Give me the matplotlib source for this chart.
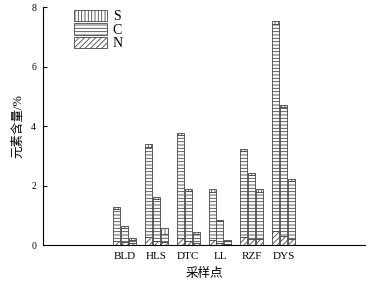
import numpy as np
import matplotlib
matplotlib.use('Agg')
import matplotlib.pyplot as plt
from matplotlib.patches import Patch

plt.rcParams['font.family'] = ['Liberation Serif', 'Noto Sans CJK SC']
plt.rcParams['hatch.color'] = '#777777'
plt.rcParams['hatch.linewidth'] = 0.6

# sampling sites
sites = ['BLD', 'HLS', 'DTC', 'LL', 'RZF', 'DYS']

# three samples per site, values in %
# N (bottom), C (middle), S (top cap)
n_vals = [[0.15, 0.27, 0.25, 0.17, 0.26, 0.47],
          [0.10, 0.15, 0.15, 0.08, 0.22, 0.30],
          [0.06, 0.10, 0.06, 0.03, 0.20, 0.20]]
c_vals = [[1.05, 3.04, 3.44, 1.62, 2.89, 6.95],
          [0.49, 1.40, 1.67, 0.72, 2.14, 4.34],
          [0.12, 0.26, 0.32, 0.10, 1.60, 1.95]]
s_vals = [[0.08, 0.08, 0.08, 0.08, 0.08, 0.10],
          [0.06, 0.07, 0.07, 0.06, 0.08, 0.08],
          [0.05, 0.20, 0.06, 0.04, 0.08, 0.08]]

fig = plt.figure(figsize=(3.72, 2.84), dpi=100)
ax = fig.add_axes([0.116, 0.137, 0.865, 0.838])

x = np.arange(len(sites))
w = 0.22
offs = [-0.25, 0, 0.25]
ec = '#444444'
for i in range(3):
    n = np.array(n_vals[i])
    c = np.array(c_vals[i])
    s = np.array(s_vals[i])
    ax.bar(x + offs[i], n, w, color='white', edgecolor=ec, lw=0.6, hatch='//////')
    ax.bar(x + offs[i], c, w, bottom=n, color='white', edgecolor=ec, lw=0.6, hatch='-----')
    ax.bar(x + offs[i], s, w, bottom=n + c, color='white', edgecolor=ec, lw=0.6, hatch='|||||')

ax.set_xlim(-2.55, 7.55)
ax.set_ylim(0, 8)
ax.set_yticks([0, 2, 4, 6, 8])
ax.set_xticks(x)
ax.set_xticklabels(sites, fontsize=8)
ax.tick_params(axis='x', length=0, pad=5)
ax.tick_params(axis='y', direction='in', length=3, labelsize=7, width=0.8, pad=5)
ax.spines['top'].set_visible(False)
ax.spines['right'].set_visible(False)
ax.set_xlabel('采样点', fontsize=9, labelpad=5)
ax.set_ylabel('元素含量/%', fontsize=9, labelpad=5)

handles = [Patch(facecolor='white', edgecolor=ec, hatch='|||||', lw=0.6),
           Patch(facecolor='white', edgecolor=ec, hatch='-----', lw=0.6),
           Patch(facecolor='white', edgecolor=ec, hatch='//////', lw=0.6)]
ax.legend(handles, ['S', 'C', 'N'], loc='upper left', bbox_to_anchor=(0.065, 1.03),
          frameon=False, fontsize=10, handlelength=2.4, handleheight=0.9,
          labelspacing=0.0, handletextpad=0.4, borderpad=0.2)

fig.savefig('out.png', dpi=100)
